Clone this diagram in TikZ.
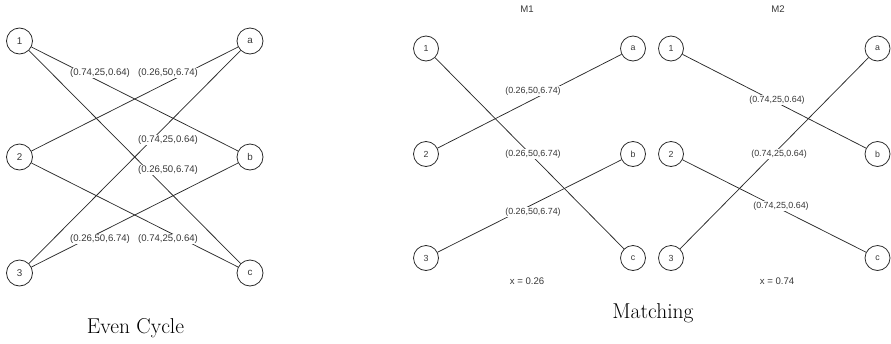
\documentclass[tikz,border=0pt]{standalone}
\usepackage{fontspec}
\newfontfamily\diagfont{Liberation Sans}
\definecolor{ink}{HTML}{2B2B2B}
\definecolor{txt}{HTML}{383838}
\tikzset{
  vtx/.style={circle, draw=ink, line width=0.8pt, minimum size=26pt, inner sep=0pt,
              text=txt, font=\diagfont\fontsize{9.8}{11}\selectfont},
  svtx/.style={vtx, minimum size=25pt, font=\diagfont\fontsize{8.8}{10}\selectfont},
  edge/.style={draw=ink, line width=0.75pt},
  wlab/.style={fill=white, inner sep=0.6pt, text=txt, font=\diagfont\fontsize{9.6}{11}\selectfont},
  slab/.style={wlab, font=\diagfont\fontsize{8.9}{10}\selectfont},
  title/.style={text=txt, font=\diagfont\fontsize{9.6}{11}\selectfont},
  caption/.style={anchor=base, font=\fontsize{21.5}{25}\selectfont}
}
\begin{document}
\begin{tikzpicture}[x=1pt, y=-1pt]
\useasboundingbox (0,0) rectangle (891,343);

% ---------- Even cycle ----------
\node[vtx] (e1) at (19.5,41) {1};
\node[vtx] (e2) at (19.5,157) {2};
\node[vtx] (e3) at (19.5,273) {3};
\node[vtx] (ea) at (250,41) {a};
\node[vtx] (eb) at (250,157) {b};
\node[vtx] (ec) at (250,273) {c};

\draw[edge] (e1) -- (eb);
\draw[edge] (e1) -- (ec);
\draw[edge] (e2) -- (ea);
\draw[edge] (e2) -- (ec);
\draw[edge] (e3) -- (ea);
\draw[edge] (e3) -- (eb);

\node[wlab] (l1b) at (100,73) {(0.74,25,0.64)};
\node[wlab] (l2a) at (168,73) {(0.26,50,6.74)};
\node[wlab] (l3a) at (168,140) {(0.74,25,0.64)};
\node[wlab] (l1c) at (168,170) {(0.26,50,6.74)};
\node[wlab] (l3b) at (100,239) {(0.26,50,6.74)};
\node[wlab] (l2c) at (168,239) {(0.74,25,0.64)};

\node[caption] (capA) at (135.5,333) {Even Cycle};

% ---------- Matching M1 ----------
\node[title] (t1) at (527,9) {M1};
\node[svtx] (m1) at (426,48.5) {1};
\node[svtx] (m2) at (426,154) {2};
\node[svtx] (m3) at (426,258) {3};
\node[svtx] (ma) at (633,48.5) {a};
\node[svtx] (mb) at (633,154) {b};
\node[svtx] (mc) at (633,258) {c};

\draw[edge] (m1) -- (mc);
\draw[edge] (m2) -- (ma);
\draw[edge] (m3) -- (mb);

\node[slab] (k2a) at (533,91) {(0.26,50,6.74)};
\node[slab] (k1c) at (533,154) {(0.26,50,6.74)};
\node[slab] (k3b) at (533,212) {(0.26,50,6.74)};
\node[title] (x1) at (527,281) {x = 0.26};

% ---------- Matching M2 ----------
\node[title] (t2) at (778,9) {M2};
\node[svtx] (n1) at (671,48.5) {1};
\node[svtx] (n2) at (671,154) {2};
\node[svtx] (n3) at (671,258) {3};
\node[svtx] (na) at (877.5,48.5) {a};
\node[svtx] (nb) at (877.5,154) {b};
\node[svtx] (nc) at (877.5,258) {c};

\draw[edge] (n1) -- (nb);
\draw[edge] (n3) -- (na);
\draw[edge] (n2) -- (nc);

\node[slab] (j1b) at (777,100) {(0.74,25,0.64)};
\node[slab] (j3a) at (779,154) {(0.74,25,0.64)};
\node[slab] (j2c) at (781,206) {(0.74,25,0.64)};
\node[title] (x2) at (777,281) {x = 0.74};

\node[caption] (capB) at (653,318) {Matching};
\end{tikzpicture}
\end{document}
